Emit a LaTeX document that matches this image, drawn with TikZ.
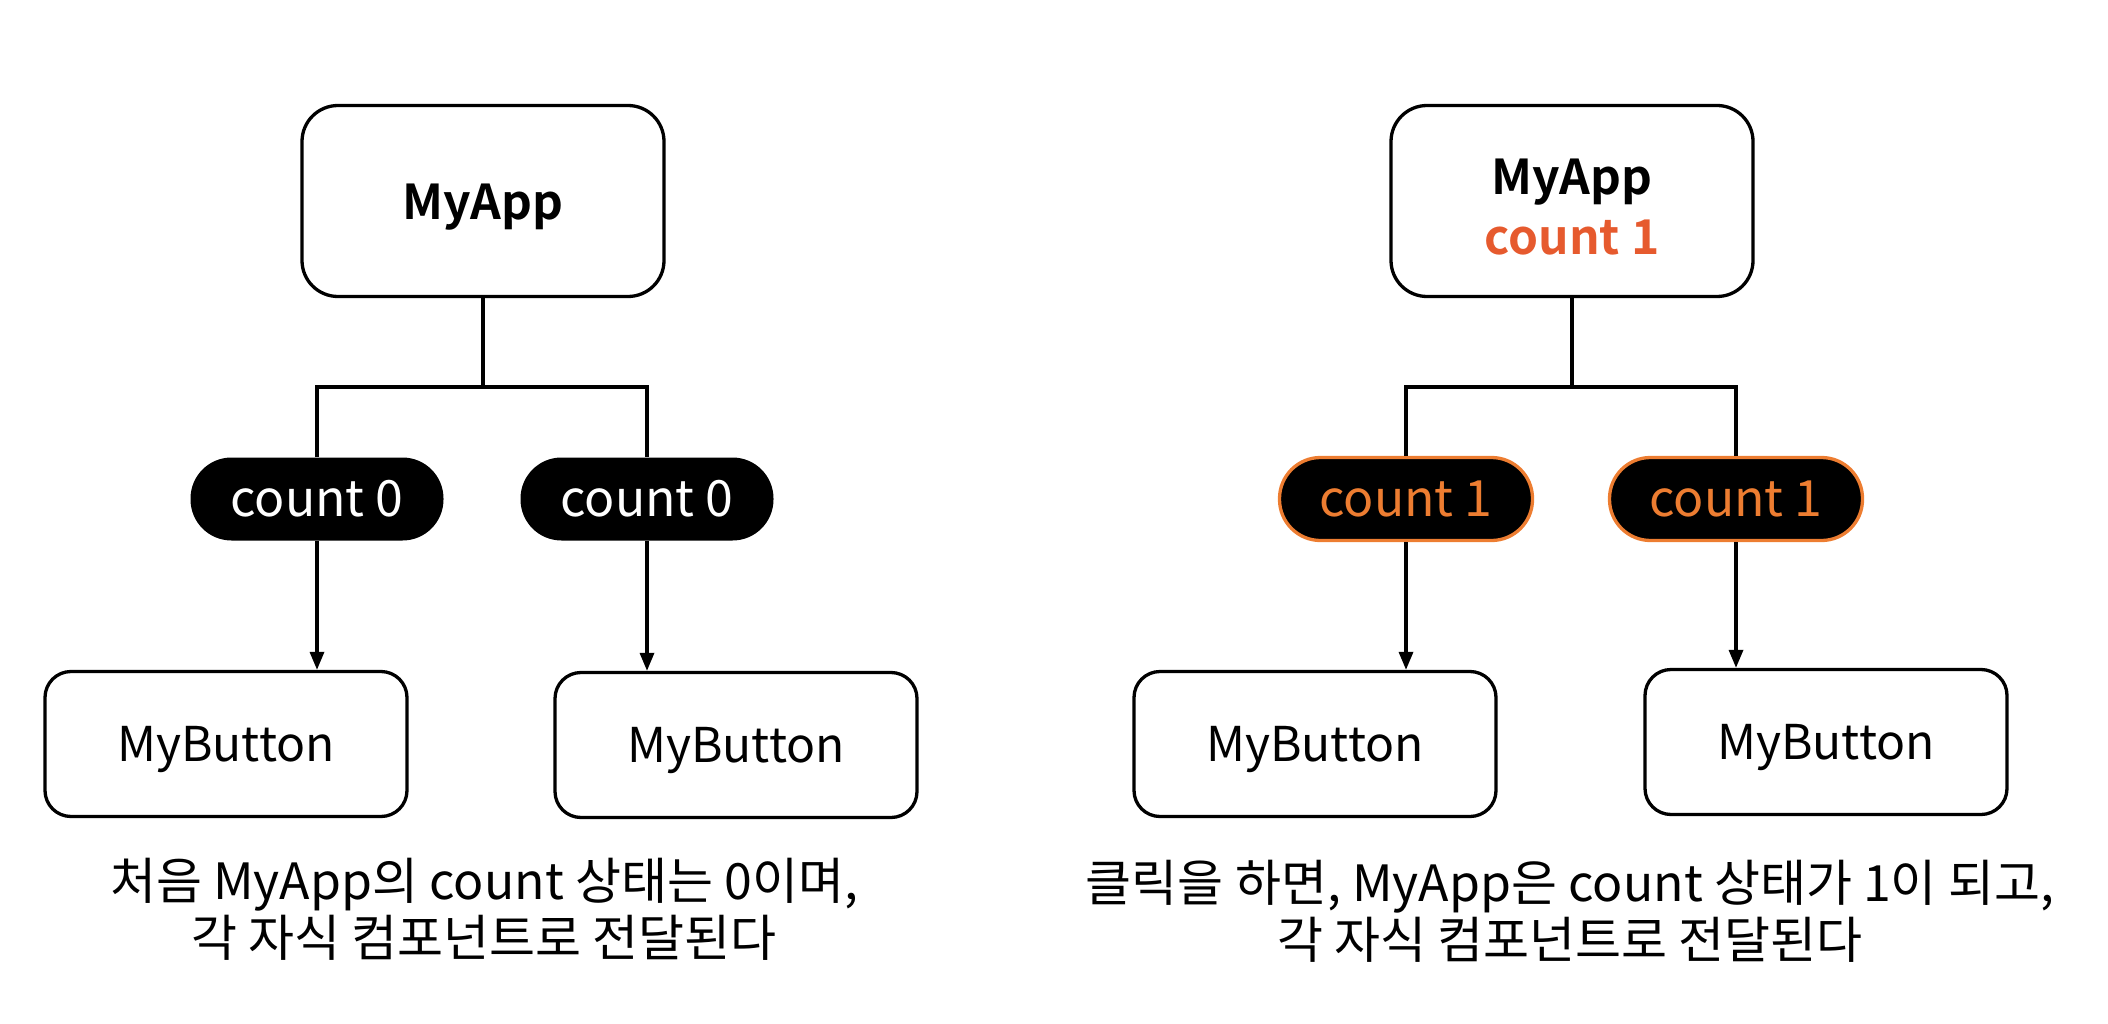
\documentclass[tikz,border=0pt]{standalone}
\usepackage{fontspec}
\setmainfont{Noto Sans CJK KR}[BoldFont={Noto Sans CJK KR Bold}]
\usetikzlibrary{arrows.meta}
\definecolor{pillor}{HTML}{ED7D31}
\definecolor{appor}{HTML}{E65A2E}
\tikzset{
  appbox/.style={draw, line width=3.3pt, rounded corners=36pt, minimum width=362pt, minimum height=191pt},
  apptext/.style={align=center, inner sep=0pt, font=\fontsize{48}{60}\selectfont\bfseries},
  btnbox/.style={draw, line width=3.3pt, rounded corners=26pt, minimum width=362pt, minimum height=145pt, text depth=0pt, font=\fontsize{48}{56}\selectfont},
  pill/.style={fill=black, text=white, rounded corners=41pt, minimum width=253pt, minimum height=83pt, font=\fontsize{50}{56}\selectfont},
  pillhot/.style={pill, draw=pillor, line width=3.3pt, text=pillor},
  wire/.style={line width=3.3pt},
  arr/.style={line width=3.3pt, -{Triangle[length=18pt,width=14pt]}},
  caption/.style={align=center, font=\fontsize{50}{57}\selectfont}
}
\begin{document}
\begin{tikzpicture}[x=1pt,y=-1pt]
\path[use as bounding box] (0,0) rectangle (2108,1024);
% left
\node[appbox] (appL) at (483,201) {};
\node[apptext] (appLt) at (483,207) {MyApp};
\coordinate (jL) at (483,387);
\node[pill] (pL1) at (317,499) {count 0};
\node[pill] (pL2) at (647,499) {count 0};
\node[btnbox] (bL1) at (226,744) {MyButton};
\node[btnbox] (bL2) at (736,745) {MyButton};
\draw[wire] (appL.south) -- (jL);
\draw[wire] (pL1.north) |- (jL) -| (pL2.north);
\draw[arr] (pL1.south) -- (pL1.south |- bL1.north);
\draw[arr] (pL2.south) -- (pL2.south |- bL2.north);
\node[caption] (capL) at (484,909) {처음 MyApp의 count 상태는 0이며,\\각 자식 컴포넌트로 전달된다};
% right
\node[appbox] (appR) at (1572,201) {};
\node[apptext] (appRt) at (1572,207) {MyApp\\\textcolor{appor}{count 1}};
\coordinate (jR) at (1572,387);
\node[pillhot] (pR1) at (1406,499) {count 1};
\node[pillhot] (pR2) at (1736,499) {count 1};
\node[btnbox] (bR1) at (1315,744) {MyButton};
\node[btnbox] (bR2) at (1826,742) {MyButton};
\draw[wire] (appR.south) -- (jR);
\draw[wire] (pR1.north) |- (jR) -| (pR2.north);
\draw[arr] (pR1.south) -- (pR1.south |- bR1.north);
\draw[arr] (pR2.south) -- (pR2.south |- bR2.north);
\node[caption] (capR) at (1570,911) {클릭을 하면, MyApp은 count 상태가 1이 되고,\\각 자식 컴포넌트로 전달된다};
\end{tikzpicture}
\end{document}
